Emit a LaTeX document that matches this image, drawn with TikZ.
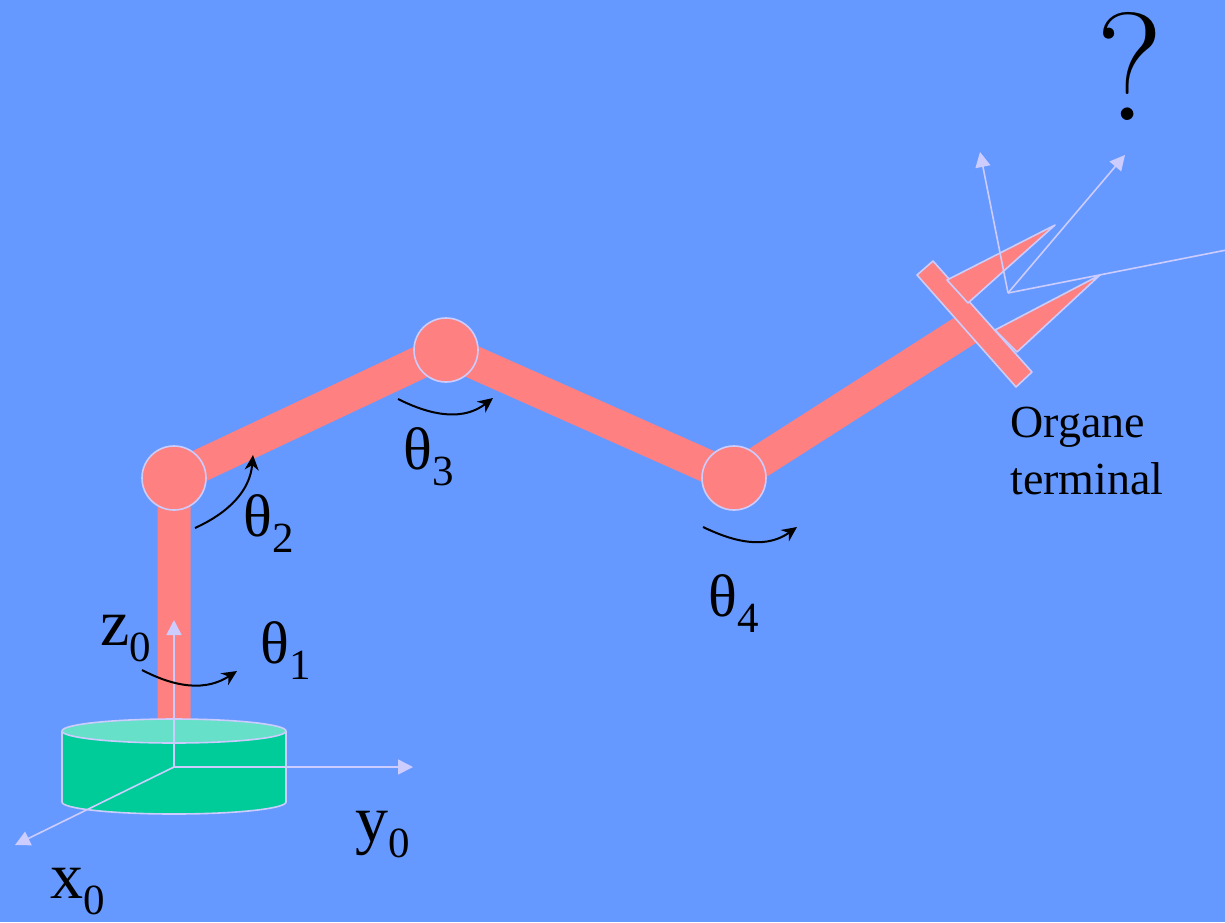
\documentclass[tikz,border=0pt]{standalone}
\usepackage{fontspec}
\newfontfamily\serif{Liberation Serif}
\usetikzlibrary{arrows.meta}

\definecolor{sky}{HTML}{6699FF}
\definecolor{flesh}{HTML}{FF8080}
\definecolor{lilac}{HTML}{CCCCFF}
\definecolor{jade}{HTML}{00CC99}
\definecolor{jadetop}{HTML}{66E0C8}

% lowered index after a symbol
\newcommand\idx[1]{\raisebox{-8pt}{\fontsize{21.5}{21.5}\selectfont #1}}

\begin{document}
\begin{tikzpicture}[x=0.5pt,y=-0.5pt,line join=round,>={Stealth[length=7.5pt,width=7pt]},
  every node/.style={inner sep=0pt},
  link/.style={draw=flesh,line width=16.5pt},
  joint/.style={circle,fill=flesh,draw=lilac,line width=0.8pt,minimum size=32pt},
  part/.style={fill=flesh,draw=lilac,line width=0.8pt},
  axis/.style={draw=lilac,line width=0.8pt,-{Triangle[length=7.5pt,width=7.5pt]}},
  rot/.style={black,line width=1pt,->},
  letter/.style={font=\serif\fontsize{33}{33}\selectfont,anchor=base west},
  greek/.style={font=\serif\fontsize{30}{30}\selectfont,anchor=base west}]
  \useasboundingbox (0,0) rectangle (1225,922);
  \clip (0,0) rectangle (1225,922);
  \fill[sky] (0,0) rectangle (1225,922);

  % arm
  \coordinate (foot) at (174,740);
  \coordinate (p1) at (174,478);
  \coordinate (p2) at (446,350);
  \coordinate (p3) at (734,478);
  \coordinate (grip) at (975,324);
  \draw[link] (foot) -- (p1) -- (p2) -- (p3) -- (grip);

  % base cylinder
  \draw[fill=jade,draw=lilac,line width=0.8pt] (62,731) -- (62,802)
    arc[start angle=180,end angle=0,x radius=112,y radius=12] -- (286,731);
  \draw[fill=jadetop,draw=lilac,line width=0.8pt] (174,731) ellipse[x radius=112,y radius=12];

  % base frame
  \coordinate (o0) at (174,767);
  \coordinate (z0) at (174,620);
  \coordinate (y0) at (413,767);
  \coordinate (x0) at (15,845);
  \draw[axis] (o0) -- (z0);
  \draw[axis] (o0) -- (y0);
  \draw[axis] (o0) -- (x0);

  \node[joint] (j1) at (p1) {};
  \node[joint] (j2) at (p2) {};
  \node[joint] (j3) at (p3) {};

  % gripper
  \draw[part] (917,275) -- (933,261) -- (1032,372) -- (1016,387) -- cycle;
  \draw[part] (947,280) -- (1055,225) -- (968,303) -- cycle;
  \draw[part] (995,330) -- (1100,275) -- (1017,352) -- cycle;

  % tool frame
  \coordinate (on) at (1008,293);
  \coordinate (n1) at (980,152);
  \coordinate (n2) at (1125,155);
  \coordinate (n3) at (1262,243);
  \draw[axis] (on) -- (n1);
  \draw[axis] (on) -- (n2);
  \draw[axis] (on) -- (n3);

  % joint rotations
  \draw[rot] (142,670) .. controls (165,682) and (200,695) .. (237,671);
  \draw[rot] (195,528) .. controls (230,512) and (250,490) .. (253,455);
  \draw[rot] (398,399) .. controls (420,410) and (458,425) .. (493,398);
  \draw[rot] (703,527) .. controls (726,538) and (762,552) .. (797,527);

  % labels
  \node[letter] (lz) at (100,645) {z\idx{0}};
  \node[letter] (ly) at (355,841) {y\idx{0}};
  \node[letter] (lx) at (50,898) {x\idx{0}};
  \node[greek] (t1) at (260,663) {θ\idx{1}};
  \node[greek] (t2) at (243,536) {θ\idx{2}};
  \node[greek] (t3) at (403,469) {θ\idx{3}};
  \node[greek] (t4) at (708,616) {θ\idx{4}};
  \node[font=\serif\fontsize{23}{28.5}\selectfont,align=left,anchor=north west] (tool) at (1010,407) {Organe\\terminal};
  \node[font=\fontsize{77}{77}\selectfont,anchor=base west] (ask) at (1096,120) {?};
\end{tikzpicture}
\end{document}
